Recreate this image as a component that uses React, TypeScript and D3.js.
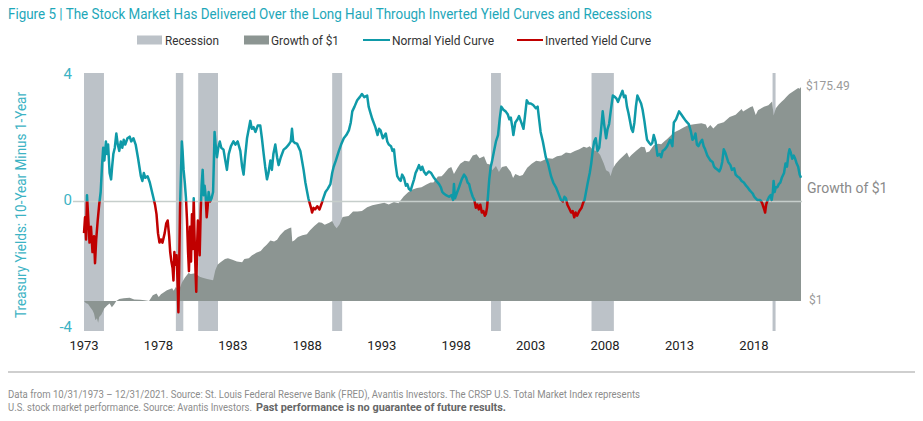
import React from "react";
import * as d3 from "d3";

const title = "Figure 5 | The Stock Market Has Delivered Over the Long Haul Through Inverted Yield Curves and Recessions";
const footer1 = "Data from 10/31/1973 – 12/31/2021. Source: St. Louis Federal Reserve Bank (FRED), Avantis Investors. The CRSP U.S. Total Market Index represents";
const footer2a = "U.S. stock market performance. Source: Avantis Investors.";
const footer2b = "Past performance is no guarantee of future results.";

const legendLabels = ["Recession", "Growth of $1", "Normal Yield Curve", "Inverted Yield Curve"];
const xTickYears = [1973, 1978, 1983, 1988, 1993, 1998, 2003, 2008, 2013, 2018];
const yTicks = [4, 0, -4];

// NBER recessions [start, end] as decimal years
const recessions: [number, number][] = [
  [1973.83, 1975.17], [1980.0, 1980.5], [1981.5, 1982.83], [1990.5, 1991.17],
  [2001.17, 2001.83], [2007.92, 2009.42], [2020.08, 2020.25],
];

// 10Y minus 1Y spread: [decimal year, value]
const spread: [number, number][] = [
  [1973.83,-1.0],[1973.9,-0.5],[1973.97,-1.2],[1974.03,0.2],[1974.1,-0.4],[1974.2,-1.3],[1974.3,-0.8],[1974.4,-1.6],[1974.5,-1.1],[1974.57,-1.95],[1974.65,-1.2],[1974.75,-0.6],[1974.85,-0.1],[1974.95,0.3],
  [1975.05,1.2],[1975.12,1.7],[1975.2,1.3],[1975.3,1.9],[1975.38,1.5],[1975.45,1.8],[1975.55,0.9],[1975.65,0.7],[1975.72,1.1],[1975.8,1.5],[1975.9,1.7],
  [1976.0,2.15],[1976.1,1.8],[1976.2,1.6],[1976.3,1.9],[1976.4,1.7],[1976.5,1.95],[1976.6,1.8],[1976.75,2.0],[1976.9,2.05],
  [1977.0,1.9],[1977.15,2.0],[1977.3,1.8],[1977.45,1.4],[1977.55,1.1],[1977.65,0.8],[1977.75,0.65],[1977.85,0.9],[1977.95,0.75],
  [1978.1,0.8],[1978.25,0.6],[1978.4,0.3],[1978.5,0.1],[1978.6,-0.1],[1978.7,-0.4],[1978.8,-1.0],[1978.9,-1.3],
  [1979.0,-1.2],[1979.1,-1.3],[1979.25,-1.0],[1979.35,-0.7],[1979.45,-0.6],[1979.55,-1.1],[1979.62,-1.6],[1979.7,-1.9],[1979.78,-2.1],[1979.84,-2.5],[1979.9,-1.6],[1979.97,-2.0],
  [1980.05,-1.7],[1980.12,-2.6],[1980.17,-3.5],[1980.22,-2.2],[1980.28,-0.2],[1980.35,1.0],[1980.4,1.9],[1980.45,1.6],[1980.52,1.0],[1980.6,0.6],[1980.68,0.1],[1980.75,-0.6],[1980.82,-1.6],[1980.88,-2.2],[1980.95,-0.8],
  [1981.02,-1.9],[1981.08,-0.4],[1981.13,-1.5],[1981.2,0.1],[1981.25,-1.0],[1981.32,-2.2],[1981.37,-2.85],[1981.42,-1.5],[1981.48,-0.6],[1981.55,-1.2],[1981.6,-1.7],[1981.67,-0.3],[1981.73,0.5],[1981.8,1.0],[1981.87,0.2],[1981.93,0.5],
  [1982.0,0.2],[1982.07,-0.5],[1982.13,-0.2],[1982.2,0.3],[1982.3,0.0],[1982.4,0.1],[1982.5,0.3],[1982.55,1.2],[1982.6,2.2],[1982.67,1.8],[1982.76,1.4],[1982.85,1.7],[1982.95,1.9],
  [1983.05,1.7],[1983.2,1.64],[1983.32,1.3],[1983.43,1.0],[1983.55,1.5],[1983.7,1.75],[1983.87,1.9],
  [1984.0,1.8],[1984.15,1.9],[1984.33,1.6],[1984.45,1.1],[1984.55,0.85],[1984.65,1.4],[1984.78,2.0],[1984.9,2.3],
  [1985.0,2.55],[1985.1,2.3],[1985.22,2.35],[1985.35,2.2],[1985.5,2.4],[1985.67,2.4],[1985.78,2.0],[1985.9,1.5],
  [1986.0,1.1],[1986.12,0.7],[1986.22,0.9],[1986.35,1.3],[1986.45,1.0],[1986.55,1.5],[1986.68,1.8],[1986.8,1.4],[1986.9,1.15],
  [1987.05,1.4],[1987.24,1.64],[1987.4,1.7],[1987.58,1.8],[1987.72,1.9],[1987.8,2.3],[1987.88,1.9],
  [1988.0,1.85],[1988.14,1.83],[1988.36,1.6],[1988.47,1.3],[1988.58,1.0],[1988.7,0.6],[1988.8,0.35],[1988.9,0.1],[1988.99,-0.05],
  [1989.08,-0.2],[1989.15,-0.35],[1989.25,-0.2],[1989.35,-0.25],[1989.5,-0.15],[1989.65,-0.25],[1989.8,-0.05],[1989.9,0.1],
  [1990.05,0.3],[1990.2,0.4],[1990.38,0.55],[1990.5,0.9],[1990.6,1.1],[1990.75,1.3],[1990.95,1.6],
  [1991.1,1.8],[1991.28,2.0],[1991.45,2.1],[1991.62,2.25],[1991.75,2.5],[1991.85,2.85],
  [1992.0,3.0],[1992.18,3.2],[1992.35,3.3],[1992.5,3.4],[1992.65,3.3],[1992.85,3.35],[1992.95,3.0],
  [1993.07,2.8],[1993.2,2.6],[1993.4,2.35],[1993.55,2.1],[1993.65,2.3],[1993.75,2.25],[1993.9,2.0],
  [1994.1,2.15],[1994.2,1.9],[1994.3,1.8],[1994.45,1.75],[1994.55,1.6],[1994.65,1.65],[1994.75,1.2],[1994.87,0.8],
  [1995.0,0.7],[1995.1,0.65],[1995.2,0.85],[1995.32,0.75],[1995.45,0.5],[1995.55,0.55],[1995.65,0.4],[1995.77,0.35],[1995.9,0.55],
  [1996.0,0.7],[1996.1,0.9],[1996.2,1.0],[1996.33,1.15],[1996.45,1.0],[1996.55,1.1],[1996.66,0.95],[1996.8,0.85],
  [1997.0,0.95],[1997.15,0.9],[1997.34,0.75],[1997.5,0.65],[1997.68,0.55],[1997.8,0.45],[1997.9,0.3],
  [1998.0,0.25],[1998.15,0.2],[1998.35,0.15],[1998.5,0.2],[1998.62,0.05],[1998.68,0.55],[1998.75,0.1],[1998.9,0.3],
  [1999.02,0.45],[1999.2,0.7],[1999.36,0.85],[1999.5,0.75],[1999.6,0.6],[1999.7,0.55],[1999.8,0.35],[1999.94,0.15],
  [2000.05,0.05],[2000.15,-0.2],[2000.25,-0.1],[2000.35,-0.25],[2000.45,-0.1],[2000.55,-0.35],[2000.65,-0.3],[2000.75,-0.45],[2000.82,-0.4],[2000.9,-0.2],[2000.97,0.2],
  [2001.05,0.7],[2001.15,1.1],[2001.25,1.3],[2001.37,1.6],[2001.5,1.9],[2001.64,2.1],[2001.75,2.6],[2001.86,3.0],
  [2002.0,2.9],[2002.15,2.85],[2002.3,2.75],[2002.4,2.6],[2002.5,2.65],[2002.6,2.35],[2002.67,2.1],[2002.8,2.5],[2002.95,2.6],
  [2003.05,2.7],[2003.2,2.5],[2003.35,2.3],[2003.45,2.7],[2003.57,3.2],[2003.7,3.1],[2003.84,3.1],
  [2004.0,3.05],[2004.18,2.95],[2004.3,3.0],[2004.4,2.6],[2004.5,2.2],[2004.65,1.9],[2004.85,1.4],
  [2005.0,1.2],[2005.2,0.8],[2005.35,0.6],[2005.53,0.45],[2005.7,0.25],[2005.87,0.05],
  [2006.0,0.0],[2006.1,0.15],[2006.2,0.1],[2006.3,-0.1],[2006.4,-0.2],[2006.55,-0.35],[2006.65,-0.3],[2006.76,-0.5],[2006.85,-0.35],[2006.95,-0.45],
  [2007.1,-0.3],[2007.25,-0.2],[2007.35,-0.05],[2007.45,0.05],[2007.55,0.3],[2007.65,0.55],[2007.8,0.9],[2007.9,1.2],
  [2008.0,1.6],[2008.1,1.9],[2008.2,2.0],[2008.32,1.6],[2008.44,1.7],[2008.55,2.2],[2008.67,2.85],[2008.78,2.4],[2008.9,2.0],
  [2009.0,2.3],[2009.1,2.45],[2009.22,2.9],[2009.35,3.35],[2009.5,3.3],[2009.6,3.25],[2009.7,3.15],[2009.82,3.3],
  [2010.0,3.5],[2010.1,3.3],[2010.2,3.35],[2010.3,3.0],[2010.4,2.8],[2010.5,2.55],[2010.6,2.3],[2010.7,2.2],[2010.8,2.5],[2010.9,3.0],
  [2011.0,3.35],[2011.1,3.25],[2011.25,3.1],[2011.35,2.9],[2011.47,2.55],[2011.57,2.2],[2011.65,1.95],[2011.8,1.85],[2011.9,1.8],
  [2012.0,1.85],[2012.1,2.1],[2012.22,1.9],[2012.35,1.45],[2012.5,1.5],[2012.6,1.4],[2012.7,1.6],[2012.85,1.65],
  [2013.0,1.75],[2013.1,1.85],[2013.2,1.95],[2013.35,1.75],[2013.45,2.5],[2013.6,2.6],[2013.8,2.85],[2013.95,2.75],
  [2014.1,2.65],[2014.25,2.55],[2014.45,2.45],[2014.6,2.2],[2014.7,1.95],[2014.8,2.0],[2014.9,2.15],
  [2015.0,1.8],[2015.1,1.75],[2015.2,1.85],[2015.35,1.95],[2015.45,1.75],[2015.55,1.65],[2015.7,1.45],[2015.9,1.3],
  [2016.05,1.25],[2016.15,1.1],[2016.25,1.05],[2016.4,1.0],[2016.5,0.95],[2016.6,1.05],[2016.7,1.25],[2016.8,1.65],[2016.9,1.55],
  [2017.0,1.4],[2017.1,1.25],[2017.25,1.15],[2017.35,1.0],[2017.5,1.05],[2017.6,0.85],[2017.7,0.8],[2017.85,0.75],
  [2018.0,0.65],[2018.15,0.6],[2018.3,0.5],[2018.4,0.45],[2018.55,0.35],[2018.65,0.3],[2018.75,0.25],[2018.85,0.15],[2018.95,0.1],
  [2019.05,0.05],[2019.2,0.05],[2019.3,0.02],[2019.38,-0.05],[2019.45,-0.15],[2019.52,-0.25],[2019.58,-0.35],[2019.65,-0.1],[2019.75,0.05],[2019.85,0.15],[2019.95,0.2],
  [2020.02,0.05],[2020.1,0.3],[2020.15,0.65],[2020.22,0.3],[2020.3,0.45],[2020.4,0.45],[2020.5,0.55],[2020.6,0.6],[2020.7,0.75],[2020.85,0.9],[2020.95,1.2],
  [2021.05,1.1],[2021.15,1.5],[2021.22,1.65],[2021.3,1.55],[2021.4,1.35],[2021.5,1.45],[2021.6,1.35],[2021.7,1.2],[2021.8,1.1],[2021.9,0.85],[2021.99,0.75],
];

// Growth of $1 (CRSP US Total Market): [decimal year, value]
const growth: [number, number][] = [
  [1973.83,1.0],[1973.95,0.95],[1974.1,0.93],[1974.25,0.86],[1974.4,0.8],[1974.5,0.74],[1974.6,0.63],[1974.7,0.66],[1974.78,0.59],[1974.85,0.68],
  [1975.0,0.72],[1975.2,0.84],[1975.4,0.9],[1975.55,0.94],[1975.7,0.86],[1975.85,0.92],[1976.0,1.0],[1976.2,1.05],[1976.5,1.07],[1976.9,1.08],
  [1977.2,1.04],[1977.6,1.03],[1977.9,1.02],[1978.2,1.0],[1978.45,1.15],[1978.7,1.2],[1978.85,1.1],[1979.0,1.18],[1979.4,1.3],[1979.75,1.36],[1979.85,1.28],
  [1980.0,1.4],[1980.2,1.28],[1980.4,1.55],[1980.6,1.75],[1980.85,1.97],[1981.0,1.92],[1981.3,1.95],[1981.6,1.8],[1981.8,1.75],
  [1982.1,1.7],[1982.5,1.65],[1982.65,2.1],[1982.8,2.4],[1983.0,2.55],[1983.3,2.75],[1983.5,2.8],[1983.8,2.7],
  [1984.1,2.6],[1984.45,2.55],[1984.6,2.75],[1984.9,2.8],[1985.1,3.0],[1985.4,3.2],[1985.7,3.35],[1985.9,3.65],
  [1986.1,3.9],[1986.35,4.3],[1986.6,4.2],[1986.8,4.4],[1987.0,4.9],[1987.3,5.5],[1987.6,5.8],[1987.75,5.9],[1987.82,4.2],[1987.95,4.3],
  [1988.2,4.7],[1988.5,4.9],[1988.8,5.0],[1989.0,5.5],[1989.3,6.1],[1989.6,6.7],[1989.8,6.6],
  [1990.0,6.3],[1990.3,6.6],[1990.5,6.9],[1990.65,6.2],[1990.8,5.8],[1991.0,6.4],[1991.2,7.6],[1991.6,7.8],[1991.9,8.7],
  [1992.2,8.7],[1992.5,8.8],[1992.85,9.6],[1993.2,10.1],[1993.6,10.4],[1994.0,10.7],[1994.3,10.3],[1994.65,10.9],[1994.95,10.6],
  [1995.3,12.5],[1995.6,13.8],[1995.9,14.8],[1996.2,15.3],[1996.5,15.6],[1996.8,16.6],[1997.1,17.5],[1997.3,17.5],[1997.6,20.2],[1997.85,20.3],
  [1998.0,21.5],[1998.3,24.5],[1998.5,25.5],[1998.68,21.5],[1998.9,24.7],[1999.1,27.5],[1999.4,29.5],[1999.7,29.0],[1999.94,33.5],
  [2000.2,34.5],[2000.4,31.5],[2000.7,33.0],[2000.9,27.5],[2001.1,27.0],[2001.25,23.5],[2001.5,26.0],[2001.7,22.5],[2001.9,25.5],
  [2002.2,26.0],[2002.5,22.5],[2002.65,19.5],[2002.8,21.5],[2003.1,20.5],[2003.3,21.0],[2003.6,25.0],[2003.9,27.5],
  [2004.2,29.5],[2004.5,29.0],[2004.8,30.5],[2005.0,31.5],[2005.3,31.0],[2005.6,33.0],[2005.9,33.5],
  [2006.2,36.0],[2006.5,35.5],[2006.8,37.5],[2007.1,39.0],[2007.4,41.5],[2007.6,40.5],[2007.8,42.0],
  [2008.0,38.5],[2008.3,37.0],[2008.5,34.0],[2008.75,27.5],[2008.9,23.5],[2009.1,22.5],[2009.2,20.5],[2009.35,24.5],[2009.55,27.5],[2009.8,30.5],
  [2010.0,32.5],[2010.3,36.0],[2010.45,32.0],[2010.6,34.0],[2010.9,37.5],[2011.25,41.5],[2011.5,41.0],[2011.6,36.0],[2011.8,37.0],
  [2012.1,43.0],[2012.4,44.5],[2012.6,44.0],[2012.8,47.0],[2013.0,50.0],[2013.45,58.5],[2013.8,62.0],
  [2014.1,66.0],[2014.4,69.5],[2014.8,71.5],[2015.3,73.0],[2015.6,71.0],[2015.7,65.0],[2015.9,70.0],
  [2016.1,64.5],[2016.4,72.0],[2016.8,75.0],[2017.2,85.0],[2017.6,90.0],[2018.0,103.0],[2018.1,97.0],[2018.6,108.0],[2018.75,110.0],[2018.95,89.0],
  [2019.1,100.0],[2019.5,109.0],[2019.8,113.0],[2020.05,124.0],[2020.15,88.0],[2020.3,105.0],[2020.5,115.0],[2020.7,124.0],[2020.85,130.0],
  [2021.0,138.0],[2021.2,148.0],[2021.4,156.0],[2021.6,163.0],[2021.8,171.0],[2021.9,168.0],[2021.99,175.49],
];

const growthEnd = 175.49;

const W = 923, H = 421;
const TEAL = "#0f9aa8";
const RED = "#c00000";
const AREA = "#8c9592";
const REC = "#bcc2c8";
const AXIS_TEAL = "#3cb3c4";

export default function App() {
  const x = d3.scaleLinear().domain([1973.83, 2021.99]).range([84, 801]);
  const y = d3.scaleLinear().domain([-4, 4]).range([328, 75]);
  const yR = d3.scaleLog().domain([1, growthEnd]).range([301, 87]);
  const plotTop = 73, plotBottom = 331;
  const y0 = y(0);

  const areaGen = d3.area<[number, number]>()
    .x(d => x(d[0]))
    .y0(yR(1))
    .y1(d => yR(d[1]));
  const lineGen = d3.line<[number, number]>()
    .x(d => x(d[0]))
    .y(d => y(d[1]));
  const linePath = lineGen(spread) || "";

  const legendY = 40;
  const font = "Roboto, 'Noto Sans', sans-serif";

  return (
    <svg width={W} height={H} style={{ position: "absolute", left: 0, top: 0, background: "#fff" }} fontFamily={font}>
      <defs>
        <clipPath id="above"><rect x={0} y={0} width={W} height={y0} /></clipPath>
        <clipPath id="below"><rect x={0} y={y0} width={W} height={H - y0} /></clipPath>
      </defs>
      {/* title */}
      <text x={8} y={19} fontSize={15} fill="#1ea7b9" textLength={644} lengthAdjust="spacingAndGlyphs">{title}</text>

      {/* legend */}
      <g fontSize={13} fill="#333">
        <rect x={137} y={legendY - 4.5} width={25} height={9} fill={REC} />
        <text x={165} y={legendY + 4.5} textLength={54} lengthAdjust="spacingAndGlyphs">{legendLabels[0]}</text>
        <rect x={244} y={legendY - 4.5} width={25} height={9} fill={AREA} />
        <text x={271} y={legendY + 4.5} textLength={68} lengthAdjust="spacingAndGlyphs">{legendLabels[1]}</text>
        <line x1={363} x2={390} y1={legendY} y2={legendY} stroke={TEAL} strokeWidth={2} />
        <text x={392} y={legendY + 4.5} textLength={102} lengthAdjust="spacingAndGlyphs">{legendLabels[2]}</text>
        <line x1={517} x2={543} y1={legendY} y2={legendY} stroke={RED} strokeWidth={2} />
        <text x={545} y={legendY + 4.5} textLength={106} lengthAdjust="spacingAndGlyphs">{legendLabels[3]}</text>
      </g>

      {/* recession bars */}
      {recessions.map(([s, e], i) => (
        <rect key={i} x={x(s)} y={plotTop} width={Math.max(x(e) - x(s), 3)} height={plotBottom - plotTop} fill={REC} />
      ))}

      {/* growth area */}
      <path d={areaGen(growth) || ""} fill={AREA} />

      {/* zero line */}
      <line x1={73} x2={802} y1={y0} y2={y0} stroke="#c6cecb" strokeWidth={1.5} />

      {/* spread lines */}
      <path d={linePath} fill="none" stroke={TEAL} strokeWidth={2.5} strokeLinejoin="round" clipPath="url(#above)" />
      <path d={linePath} fill="none" stroke={RED} strokeWidth={2.5} strokeLinejoin="round" clipPath="url(#below)" />

      {/* left axis ticks */}
      {yTicks.map(t => (
        <text key={t} x={72} y={y(t)} fontSize={15} fill={AXIS_TEAL} textAnchor="end" dominantBaseline="middle">{t}</text>
      ))}
      <text transform={`translate(26,205) rotate(-90)`} fontSize={14} fill={AXIS_TEAL} textAnchor="middle" textLength={226} lengthAdjust="spacingAndGlyphs">Treasury Yields: 10-Year Minus 1-Year</text>

      {/* x ticks */}
      {xTickYears.map(yr => (
        <text key={yr} x={x(yr + 0.83)} y={350} fontSize={13} fill="#222" textAnchor="middle">{yr}</text>
      ))}

      {/* right labels */}
      <text x={806} y={yR(growthEnd)} fontSize={12} fill="#9a9a9a" dominantBaseline="middle">{"$" + growthEnd.toFixed(2)}</text>
      <text x={807} y={189} fontSize={14} fill="#8a8a8a" dominantBaseline="middle">Growth of $1</text>
      <text x={809} y={yR(1)} fontSize={12} fill="#9a9a9a" dominantBaseline="middle">$1</text>

      {/* separator */}
      <line x1={8} x2={915} y1={372} y2={372} stroke="#cfcfcf" strokeWidth={2} />

      {/* footer */}
      <text x={8} y={398} fontSize={10} fill="#8c8c8c" textLength={632} lengthAdjust="spacingAndGlyphs">{footer1}</text>
      <text x={8} y={411} fontSize={10} fill="#8c8c8c" textLength={244} lengthAdjust="spacingAndGlyphs">{footer2a}</text>
      <text x={256} y={411} fontSize={10} fill="#666" fontWeight="bold" textLength={250} lengthAdjust="spacingAndGlyphs">{footer2b}</text>
    </svg>
  );
}
